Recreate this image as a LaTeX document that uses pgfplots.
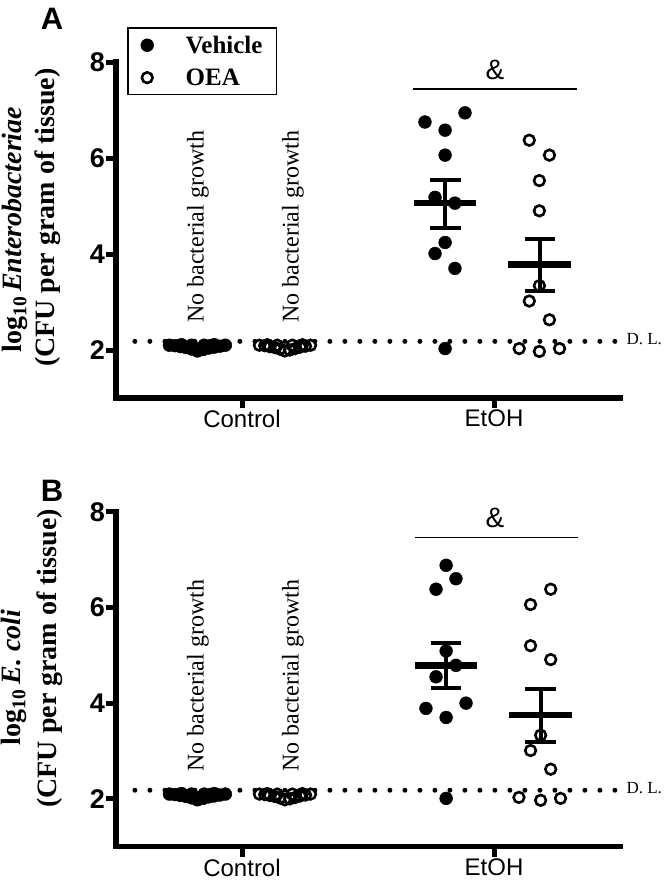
\documentclass[border=0pt]{standalone}
\usepackage{fontspec}
\setmainfont{Liberation Serif}
\setsansfont{Liberation Sans}
\usepackage{pgfplots}
\usepackage{pgfplotstable}
\pgfplotsset{compat=1.18}

% control groups: no bacterial growth, plotted at the detection limit
\pgfplotstableread{
x y
0.712 2.10
0.735 2.09
0.757 2.07
0.779 2.05
0.801 2.02
0.823 1.98
0.845 2.01
0.867 2.04
0.889 2.06
0.912 2.08
0.934 2.10
0.760 2.11
0.800 2.10
0.850 2.10
0.890 2.11
}\ctlveh
\pgfplotstableread{
x y
1.069 2.10
1.090 2.09
1.110 2.07
1.130 2.05
1.150 2.02
1.170 1.98
1.190 2.00
1.211 2.03
1.231 2.06
1.252 2.08
1.272 2.10
1.100 2.11
1.140 2.10
1.200 2.10
1.240 2.11
}\ctloea
% panel A: Enterobacteriae
\pgfplotstableread{
x y
1.726 6.75
1.885 6.94
1.806 6.58
1.806 6.06
1.766 5.18
1.845 5.06
1.806 4.24
1.766 4.01
1.845 3.70
1.806 2.03
}\vehA
\pgfplotstableread{
x y
2.140 6.37
2.220 6.06
2.180 5.53
2.180 4.90
2.180 3.34
2.140 3.02
2.220 2.63
2.100 2.03
2.180 1.97
2.260 2.03
}\oeaA
% panel B: E. coli
\pgfplotstableread{
x y
1.810 6.88
1.849 6.60
1.770 6.38
1.810 5.09
1.849 4.79
1.770 4.55
1.889 4.00
1.730 3.89
1.810 3.70
1.810 2.01
}\vehB
\pgfplotstableread{
x y
2.225 6.38
2.145 6.06
2.145 5.20
2.225 4.91
2.185 3.33
2.145 3.01
2.225 2.62
2.099 2.03
2.185 1.97
2.264 2.01
}\oeaB

\pgfplotsset{
  panel/.style={
    scale only axis, width=504pt, height=336pt,
    xmin=0.5, xmax=2.5, ymin=1, ymax=8,
    axis lines=left,
    axis line style={-, line width=5.5pt, line cap=rect},
    xtick={1,2}, xticklabels={Control,EtOH},
    ytick={2,4,6,8},
    tick align=outside, major tick length=10pt,
    major tick style={line width=5pt, black},
    xticklabel style={font=\sffamily\fontsize{24}{24}\selectfont, inner sep=2pt},
    yticklabel style={font=\sffamily\bfseries\fontsize{27}{27}\selectfont, inner sep=1pt},
    /pgf/number format/assume math mode=true,
    clip=false,
  },
  veh/.style={only marks, mark=*, mark size=6.4pt,
    mark options={fill=black, draw=black, line width=0.5pt}},
  oea/.style={only marks, mark=o, mark size=5.35pt,
    mark options={draw=black, line width=2.6pt}},
  mean/.style={black, line width=6.5pt, unbounded coords=jump, forget plot},
  sem/.style={black, line width=4pt, unbounded coords=jump, forget plot},
  dl/.style={black, line width=5pt, line cap=round, dash pattern=on 0pt off 15pt, forget plot},
}
\tikzset{
  nbg/.style={rotate=90, anchor=west, inner sep=0pt, font=\fontsize{24}{24}\selectfont},
  ylab/.style={rotate=90, inner sep=0pt, font=\bfseries\fontsize{28}{28}\selectfont},
  amp/.style={font=\sffamily\fontsize{28}{28}\selectfont},
}

\begin{document}
\begin{tikzpicture}
\useasboundingbox (0,0) rectangle (665pt,-886pt);

% ---------- A ----------
\begin{axis}[panel, at={(116pt,-398pt)}, anchor=south west,
  legend style={at={(axis description cs:0.022,1.104)}, anchor=north west,
    draw=black, line width=1.5pt, font=\bfseries\fontsize{25}{25}\selectfont,
    inner xsep=13pt, inner ysep=7pt, row sep=12pt, column sep=31pt,
    nodes={inner sep=1pt}, cells={anchor=west}},
  legend image code/.code={\draw[#1] plot coordinates {(0pt,0pt)};},
]
\addlegendimage{veh}
\addlegendentry{Vehicle}
\addlegendimage{oea}
\addlegendentry{OEA}

\addplot[dl] coordinates {(0.575,2.18) (2.488,2.18)};
\addplot[veh, forget plot] table {\ctlveh};
\addplot[oea, forget plot] table {\ctloea};
\addplot[veh, forget plot] table {\vehA};
\addplot[oea, forget plot] table {\oeaA};
\addplot[mean] coordinates {(1.683,5.06) (1.929,5.06) (2,nan) (2.056,3.78) (2.306,3.78)};
\addplot[sem] coordinates {(1.806,4.55) (1.806,5.55) (2,nan)
  (1.746,5.55) (1.869,5.55) (2,nan) (1.746,4.55) (1.869,4.55) (2,nan)
  (2.181,3.23) (2.181,4.32) (2,nan)
  (2.123,4.32) (2.242,4.32) (2,nan) (2.123,3.23) (2.242,3.23)};
\addplot[black, line width=1.5pt, forget plot] coordinates {(1.679,7.44) (2.329,7.44)};

\node[amp] at (axis cs:2.004,7.84) {\&};
\node[nbg] at (axis cs:0.825,2.56) {No bacterial growth};
\node[nbg] at (axis cs:1.202,2.56) {No bacterial growth};
\node[anchor=west, inner sep=0pt, font=\fontsize{17}{17}\selectfont] at (axis cs:2.525,2.23) {D. L.};
\node[ylab] at (axis description cs:-0.200,0.501) {log\textsubscript{10}\,\textit{Enterobacteriae}};
\node[ylab] at (axis description cs:-0.135,0.537) {(CFU per gram of tissue)};
\node[font=\sffamily\bfseries\fontsize{31}{31}\selectfont] at (axis description cs:-0.127,1.128) {A};
\end{axis}

% ---------- B ----------
\begin{axis}[panel, at={(116pt,-846.7pt)}, anchor=south west, height=335pt]
\addplot[dl] coordinates {(0.575,2.18) (2.488,2.18)};
\addplot[veh] table {\ctlveh};
\addplot[oea] table {\ctloea};
\addplot[veh] table {\vehB};
\addplot[oea] table {\oeaB};
\addplot[mean] coordinates {(1.687,4.79) (1.934,4.79) (2,nan) (2.061,3.75) (2.308,3.75)};
\addplot[sem] coordinates {(1.810,4.31) (1.810,5.26) (2,nan)
  (1.749,5.26) (1.871,5.26) (2,nan) (1.749,4.31) (1.871,4.31) (2,nan)
  (2.185,3.19) (2.185,4.29) (2,nan)
  (2.123,4.29) (2.246,4.29) (2,nan) (2.123,3.19) (2.246,3.19)};
\addplot[black, line width=1.5pt] coordinates {(1.687,7.46) (2.333,7.46)};

\node[amp] at (axis cs:2.004,7.87) {\&};
\node[nbg] at (axis cs:0.825,2.56) {No bacterial growth};
\node[nbg] at (axis cs:1.202,2.56) {No bacterial growth};
\node[anchor=west, inner sep=0pt, font=\fontsize{17}{17}\selectfont] at (axis cs:2.525,2.23) {D. L.};
\node[ylab] at (axis description cs:-0.202,0.505) {log\textsubscript{10}\,\textit{E. coli}};
\node[ylab] at (axis description cs:-0.131,0.562) {(CFU per gram of tissue)};
\node[font=\sffamily\bfseries\fontsize{31}{31}\selectfont] at (axis description cs:-0.127,1.063) {B};
\end{axis}
\end{tikzpicture}
\end{document}
